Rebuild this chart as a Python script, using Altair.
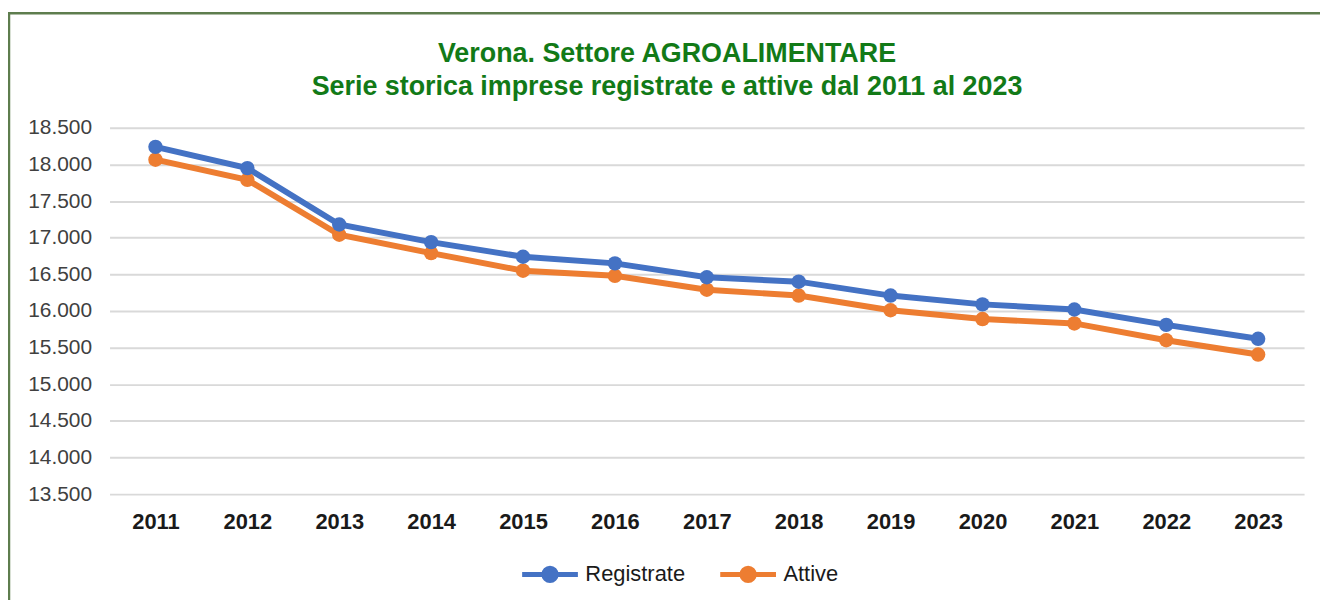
import altair as alt
import pandas as pd

anni = ["2011", "2012", "2013", "2014", "2015", "2016", "2017",
        "2018", "2019", "2020", "2021", "2022", "2023"]
registrate = [18240, 17950, 17180, 16940, 16740, 16650, 16460,
              16400, 16210, 16090, 16020, 15810, 15620]
attive = [18065, 17790, 17040, 16790, 16550, 16480, 16290,
          16210, 16010, 15890, 15830, 15600, 15405]
serie_nomi = ["Registrate", "Attive"]
colori = ["#4472C4", "#ED7D31"]
titolo = ["Verona. Settore AGROALIMENTARE",
          "Serie storica imprese registrate e attive dal 2011 al 2023"]

rows = []
for nome, valori in zip(serie_nomi, [registrate, attive]):
    for a, v in zip(anni, valori):
        rows.append({"anno": a, "valore": v, "serie": nome})
df = pd.DataFrame(rows)

FONT = "Liberation Sans"
W, H = 1200, 368

x_enc = alt.X("anno:O", title=None, sort=anni,
              axis=alt.Axis(labelAngle=0, labelFontSize=22, labelFontWeight="bold",
                            labelColor="#1a1a1a", labelFont=FONT, labelPadding=18,
                            ticks=False, domain=False, grid=False))
y_enc = alt.Y("valore:Q", title=None,
              scale=alt.Scale(domain=[13500, 18500], nice=False, zero=False),
              axis=alt.Axis(values=list(range(13500, 18501, 500)),
                            labelExpr="replace(format(datum.value, ',.0f'), ',', '.')",
                            labelFontSize=21, labelColor="#404040", labelFont=FONT,
                            labelPadding=18, ticks=False, domain=False,
                            grid=True, gridColor="#d9d9d9", gridWidth=2))
legend_path = "M-1,0H1M0.22,0A0.22,0.22 0 1,1 -0.22,0A0.22,0.22 0 1,1 0.22,0Z"
color_enc = alt.Color("serie:N",
                      scale=alt.Scale(domain=serie_nomi, range=colori),
                      legend=alt.Legend(title=None, orient="none", direction="horizontal",
                                        legendX=412, legendY=418,
                                        symbolType=legend_path, symbolSize=3136,
                                        symbolStrokeWidth=5, labelFontSize=22,
                                        labelFont=FONT, labelColor="#1a1a1a",
                                        labelOffset=5, columnPadding=24))

base = alt.Chart(df).encode(x=x_enc, y=y_enc, color=color_enc,
                            order=alt.Order("serie:N"))
lines = base.mark_line(strokeWidth=6)
points = base.mark_point(filled=True, size=210, opacity=1)

one_row = pd.DataFrame({"k": [0]})
border = alt.Chart(one_row).mark_rect(fill=None, stroke="#5e7d4e", strokeWidth=2.5).encode(
    x=alt.value(-101), x2=alt.value(W + 60), y=alt.value(-115), y2=alt.value(H + 200)
)

title_layers = []
for testo, ypos in zip(titolo, [-66, -33]):
    title_layers.append(
        alt.Chart(pd.DataFrame({"t": [testo]})).mark_text(
            font=FONT, fontSize=27, fontWeight="bold", color="#127a17",
            align="center", baseline="alphabetic"
        ).encode(text="t:N", x=alt.value(560), y=alt.value(ypos))
    )

chart = alt.layer(border, lines, points, *title_layers).properties(
    width=W, height=H,
    autosize="none",
    padding={"left": 102, "top": 119, "right": 16, "bottom": 105},
    background="white",
).configure_view(stroke=None)

chart.save("out.html", embed_options={"renderer": "svg", "actions": False})
